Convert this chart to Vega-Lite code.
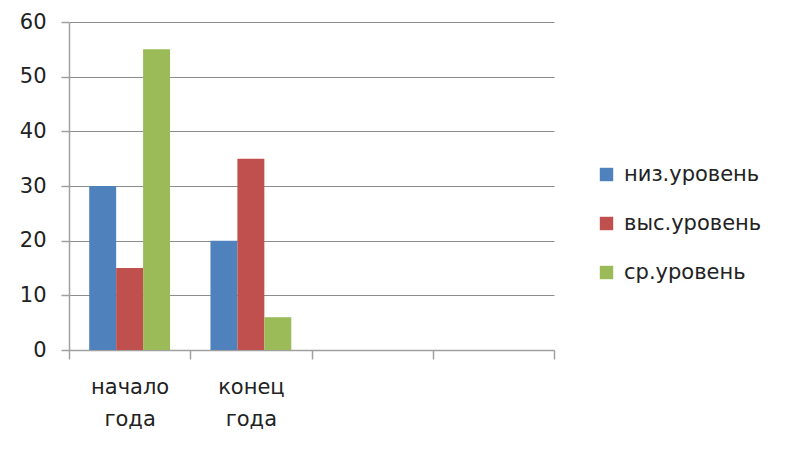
{
  "$schema": "https://vega.github.io/schema/vega-lite/v6.json",
  "autosize": {"type": "none"},
  "width": 485,
  "height": 328,
  "padding": {"left": 69, "top": 22, "right": 233, "bottom": 101},
  "background": "white",
  "config": {
    "view": {"stroke": null},
    "font": "DejaVu Sans",
    "axis": {"labelFont": "DejaVu Sans", "labelColor": "#222222"},
    "legend": {"labelFont": "DejaVu Sans"}
  },
  "data": {
    "values": [
      {"period": "начало года", "level": "низ.уровень", "value": 30},
      {"period": "начало года", "level": "выс.уровень", "value": 15},
      {"period": "начало года", "level": "ср.уровень", "value": 55},
      {"period": "конец года", "level": "низ.уровень", "value": 20},
      {"period": "конец года", "level": "выс.уровень", "value": 35},
      {"period": "конец года", "level": "ср.уровень", "value": 6}
    ]
  },
  "mark": {"type": "bar"},
  "encoding": {
    "x": {
      "field": "period",
      "type": "nominal",
      "sort": null,
      "scale": {"domain": ["начало года", "конец года", "_3", "_4"], "paddingInner": 0, "paddingOuter": 0},
      "axis": {
        "title": null,
        "labelAngle": 0,
        "labelFontSize": 21,
        "labelExpr": "datum.value == 'начало года' ? ['начало', 'года'] : datum.value == 'конец года' ? ['конец', 'года'] : ''",
        "labelLineHeight": 32,
        "labelPadding": 17,
        "labelBaseline": "top",
        "tickBand": "extent",
        "tickSize": 9,
        "tickColor": "#a0a0a0",
        "tickWidth": 1.5,
        "domainColor": "#a0a0a0",
        "domainWidth": 1.5,
        "grid": false
      }
    },
    "xOffset": {
      "field": "level",
      "type": "nominal",
      "sort": ["низ.уровень", "выс.уровень", "ср.уровень"],
      "scale": {"paddingInner": 0, "paddingOuter": 0.75}
    },
    "y": {
      "field": "value",
      "type": "quantitative",
      "scale": {"domain": [0, 60], "nice": false},
      "axis": {
        "title": null,
        "values": [0, 10, 20, 30, 40, 50, 60],
        "labelFontSize": 21,
        "labelPadding": 15,
        "tickSize": 8,
        "tickColor": "#a0a0a0",
        "tickWidth": 1.5,
        "domainColor": "#a0a0a0",
        "domainWidth": 1.5,
        "gridColor": "#8c8c8c",
        "gridWidth": 1
      }
    },
    "color": {
      "field": "level",
      "type": "nominal",
      "sort": ["низ.уровень", "выс.уровень", "ср.уровень"],
      "scale": {"domain": ["низ.уровень", "выс.уровень", "ср.уровень"], "range": ["#4F81BD", "#C0504D", "#9BBB59"]},
      "legend": {
        "title": null,
        "orient": "none",
        "legendX": 527,
        "legendY": 142,
        "padding": 0,
        "symbolType": "square",
        "symbolSize": 180,
        "symbolStrokeWidth": 0,
        "symbolOpacity": 1,
        "labelFontSize": 21,
        "labelColor": "#222222",
        "labelOffset": 7,
        "rowPadding": 27
      }
    }
  }
}
